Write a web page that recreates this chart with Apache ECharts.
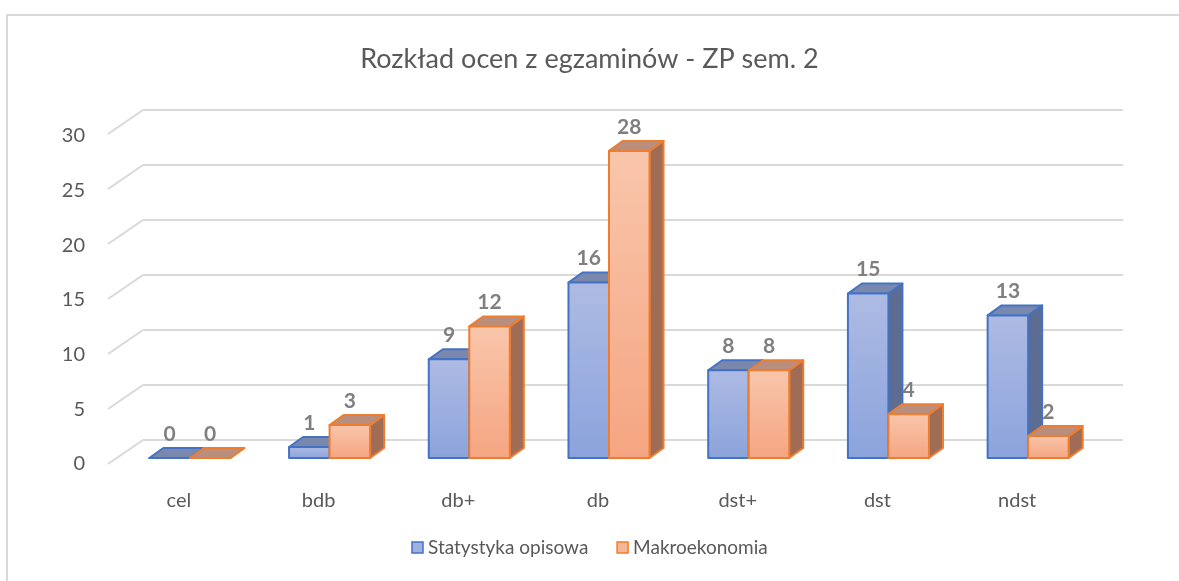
<!DOCTYPE html>
<html>
<head>
<meta charset="utf-8">
<script src="https://cdn.jsdelivr.net/npm/echarts@6/dist/echarts.min.js"></script>
<style>
  html, body { margin: 0; padding: 0; background: #fff; }
  #frame { position: absolute; left: 6px; top: 14px; width: 1200px; height: 600px;
           border-left: 2px solid #d9d9d9; border-top: 2px solid #d9d9d9; }
  #main { position: absolute; left: 0; top: 0; width: 1179px; height: 581px; }
</style>
</head>
<body>
<div id="frame"></div>
<div id="main"></div>
<script>
var categories = ['cel', 'bdb', 'db+', 'db', 'dst+', 'dst', 'ndst'];
var statystyka = [0, 1, 9, 16, 8, 15, 13];
var makro = [0, 3, 12, 28, 8, 4, 2];
var yTicks = [0, 5, 10, 15, 20, 25, 30];

var chart = echarts.init(document.getElementById('main'));
var FONT = 'Lato';
var DX = 14, DY = -10; // bar depth

var looks = [
  { border: '#4472c4', top: '#7b88ae', side: '#5d6c93', front: ['#aebbe3', '#8ba3dc'] },
  { border: '#ed7d31', top: '#b98e7c', side: '#a06c55', front: ['#f9c6ab', '#f5a581'] }
];

function bar3d(idx) {
  var lk = looks[idx];
  return function (params, api) {
    var c = api.value(0), v = api.value(1);
    var top = api.coord([c, v]);
    var base = api.coord([c, 0]);
    var bw = api.size([1, 0])[0] * 0.29;
    var x0 = idx === 0 ? top[0] - bw : top[0];
    var x1 = x0 + bw;
    var yt = top[1], yb = base[1];
    var st = { stroke: lk.border, lineWidth: 2, lineJoin: 'round' };
    return {
      type: 'group',
      children: [
        { type: 'polygon', shape: { points: [[x1, yt], [x1 + DX, yt + DY], [x1 + DX, yb + DY], [x1, yb]] },
          style: Object.assign({ fill: lk.side }, st) },
        { type: 'polygon', shape: { points: [[x0, yt], [x1, yt], [x1 + DX, yt + DY], [x0 + DX, yt + DY]] },
          style: Object.assign({ fill: lk.top }, st) },
        { type: 'rect', shape: { x: x0, y: yt, width: bw, height: yb - yt },
          style: Object.assign({ fill: new echarts.graphic.LinearGradient(0, 0, 0, 1, [
            { offset: 0, color: lk.front[0] }, { offset: 1, color: lk.front[1] }]) }, st) },
        { type: 'text', style: { text: String(v), x: (x0 + x1) / 2, y: yt - 24,
          align: 'center', verticalAlign: 'middle', fill: '#7f7f7f',
          font: 'bold 21px ' + FONT } }
      ]
    };
  };
}

chart.setOption({
  animation: false,
  title: {
    text: 'Rozkład ocen z egzaminów - ZP sem. 2',
    left: 'center', top: 41,
    textStyle: { color: '#595959', fontSize: 27, fontWeight: 'normal', fontFamily: FONT }
  },
  legend: {
    bottom: 19, left: 'center', itemWidth: 11, itemHeight: 11, itemGap: 28,
    textStyle: { color: '#595959', fontSize: 19, fontFamily: FONT },
    data: [
      { name: 'Statystyka opisowa', icon: 'rect', itemStyle: { color: '#9fb1e0', borderColor: '#4472c4', borderWidth: 1.5 } },
      { name: 'Makroekonomia', icon: 'rect', itemStyle: { color: '#f7b797', borderColor: '#ed7d31', borderWidth: 1.5 } }
    ]
  },
  grid: [
    // back wall
    { left: 143, right: 56, top: 110, bottom: 141 },
    // bars
    { left: 120, right: 81, top: 129, bottom: 123 },
    // front axis labels
    { left: 109, right: 92, top: 136, bottom: 117 }
  ],
  xAxis: [
    { gridIndex: 0, type: 'value', min: 0, max: 1, show: false },
    { gridIndex: 1, type: 'category', data: categories, show: false },
    { gridIndex: 2, type: 'category', data: categories,
      axisLine: { show: false }, axisTick: { show: false },
      axisLabel: { color: '#595959', fontSize: 20, fontFamily: FONT, margin: 27 } }
  ],
  yAxis: [
    { gridIndex: 0, type: 'value', min: 0, max: 30, interval: 5,
      axisLine: { show: false }, axisTick: { show: false }, axisLabel: { show: false },
      splitLine: { lineStyle: { color: '#d9d9d9', width: 2 } } },
    { gridIndex: 1, type: 'value', min: 0, max: 30, interval: 5, show: false, splitLine: { show: false } },
    { gridIndex: 2, type: 'value', min: 0, max: 30, interval: 5,
      axisLine: { show: false }, axisTick: { show: false }, splitLine: { show: false },
      axisLabel: { color: '#595959', fontSize: 20, fontFamily: FONT, margin: 24 } }
  ],
  series: [
    {
      type: 'custom', name: 'diag', xAxisIndex: 0, yAxisIndex: 0, silent: true,
      data: yTicks.map(function (t) { return [0, t]; }),
      renderItem: function (params, api) {
        var p = api.coord([0, api.value(1)]);
        return { type: 'line', shape: { x1: p[0], y1: p[1], x2: p[0] - 35, y2: p[1] + 24 },
                 style: { stroke: '#d9d9d9', lineWidth: 2 } };
      }
    },
    {
      type: 'custom', name: 'Statystyka opisowa', xAxisIndex: 1, yAxisIndex: 1, z: 3,
      data: statystyka.map(function (v, i) { return [i, v]; }),
      renderItem: bar3d(0)
    },
    {
      type: 'custom', name: 'Makroekonomia', xAxisIndex: 1, yAxisIndex: 1, z: 4,
      data: makro.map(function (v, i) { return [i, v]; }),
      renderItem: bar3d(1)
    }
  ]
});
</script>
</body>
</html>
